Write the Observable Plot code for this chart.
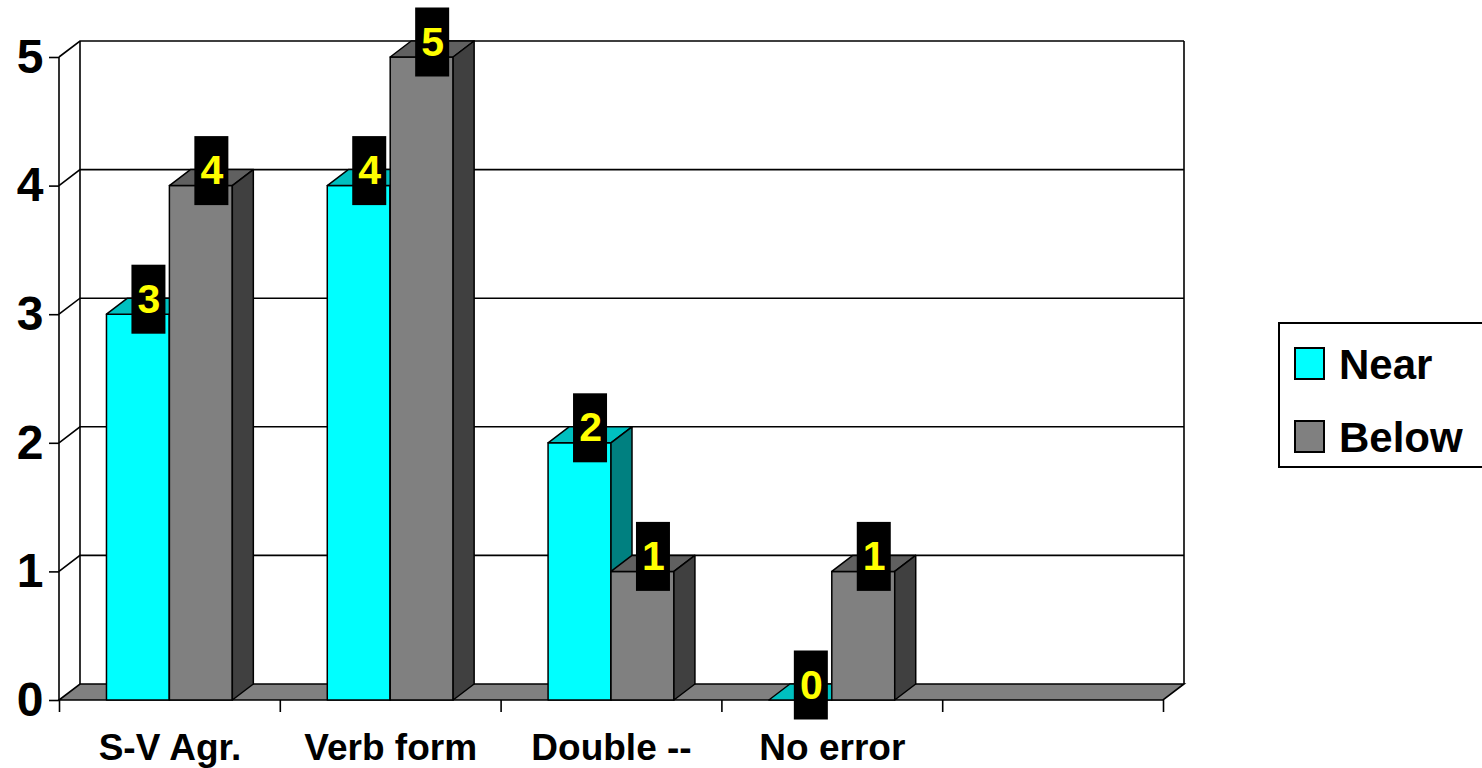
<!DOCTYPE html>
<html>
<head>
<meta charset="utf-8">
<script src="https://cdn.jsdelivr.net/npm/d3@7"></script>
<script src="https://cdn.jsdelivr.net/npm/@observablehq/plot@0.6"></script>
<style>
  body { margin: 0; background: #fff; overflow: hidden; font-family: "Liberation Sans", Arial, sans-serif; }
  #wrap { position: relative; width: 1482px; height: 768px; overflow: hidden; }
  .legend { position: absolute; left: 1278px; top: 322px; width: 240px; height: 146px;
            border: 2px solid #000; box-sizing: border-box; background: #fff; }
  .legend .sw { position: absolute; left: 14px; width: 31px; height: 33px; border: 2px solid #000; box-sizing: border-box; }
  .legend .lab { position: absolute; left: 59px; font-size: 42px; line-height: 42px; font-weight: bold; white-space: nowrap; color: #000; }
</style>
</head>
<body>
<div id="wrap"></div>
<script>
// Error counts per category, two groups of writers
const categories = ["S-V Agr.", "Verb form", "Double --", "No error"];
const slots = 5;                      // one trailing category slot stays empty
const seriesNames = ["Near", "Below"];
const nearValues = [3, 4, 2, 0];
const belowValues = [4, 5, 1, 1];
const yTicks = [0, 1, 2, 3, 4, 5];

// front / top / side shades for each series
const faceColors = {
  Near:  ["#00FFFF", "#00C0C0", "#008080"],
  Below: ["#808080", "#606060", "#404040"]
};

const DX = 21, DY = -16;   // depth of the 3D box, in pixels
const BAR = 0.285;         // column width, in category-slot units

const bars = [];
categories.forEach((c, i) => {
  bars.push({category: c, series: "Near",  value: nearValues[i],  x1: i + 0.5 - BAR, x2: i + 0.5});
  bars.push({category: c, series: "Below", value: belowValues[i], x1: i + 0.5,       x2: i + 0.5 + BAR});
});

// back wall, side-wall gridlines and the floor
function walls(index, {x, y}) {
  const g = d3.create("svg:g").attr("fill", "none").attr("stroke", "#000").attr("stroke-width", 1.6);
  const x0 = x(0), xN = x(slots), top = yTicks[yTicks.length - 1];
  for (const t of yTicks) {
    if (t === 0) continue;
    g.append("path").attr("d", `M${x0},${y(t)}L${x0 + DX},${y(t) + DY}H${xN + DX}`);
  }
  g.append("path").attr("d", `M${x0 + DX},${y(0) + DY}V${y(top) + DY}`);
  g.append("path").attr("d", `M${xN + DX},${y(0) + DY}V${y(top) + DY}`);
  g.append("path").attr("d", `M${x0},${y(0)}V${y(top)}`);
  g.append("path").attr("fill", "#808080")
    .attr("d", `M${x0},${y(0)}H${xN}l${DX},${DY}H${x0 + DX}Z`);
  return g.node();
}

// 3D columns: front face, top face, right side face
function columns(index, {x, y}) {
  const g = d3.create("svg:g").attr("stroke", "#000").attr("stroke-width", 1.5).attr("stroke-linejoin", "round");
  for (const b of bars) {
    const [front, topc, side] = faceColors[b.series];
    const l = x(b.x1), r = x(b.x2), t = y(b.value), base = y(0);
    if (b.value > 0) g.append("path").attr("fill", front).attr("d", `M${l},${base}V${t}H${r}V${base}Z`);
    g.append("path").attr("fill", topc).attr("d", `M${l},${t}l${DX},${DY}H${r + DX}l${-DX},${-DY}Z`);
    if (b.value > 0) g.append("path").attr("fill", side).attr("d", `M${r},${base}V${t}l${DX},${DY}V${base + DY}Z`);
  }
  return g.node();
}

// black tags behind the value labels
function labelBoxes(index, {x, y}) {
  const g = d3.create("svg:g").attr("fill", "#000");
  for (const b of bars) {
    g.append("rect")
      .attr("x", x((b.x1 + b.x2) / 2) + DX / 2 - 17)
      .attr("y", y(b.value) - 15 - 34.5)
      .attr("width", 34).attr("height", 69);
  }
  return g.node();
}

const chart = Plot.plot({
  width: 1482,
  height: 768,
  marginLeft: 59,
  marginRight: 319,
  marginTop: 57,
  marginBottom: 68,
  x: {domain: [0, slots], axis: null},
  y: {domain: [0, 5], axis: null},
  style: {fontFamily: "'Liberation Sans', Arial, sans-serif", color: "#000", background: "#fff", overflow: "visible"},
  marks: [
    walls,
    columns,
    labelBoxes,
    Plot.text(bars, {
      x: d => (d.x1 + d.x2) / 2, y: "value", text: d => String(d.value),
      dx: DX / 2, dy: -15, fill: "#FFFF00", fontSize: 41, fontWeight: "bold"
    }),
    Plot.axisY({ticks: yTicks, tickSize: 10, tickPadding: 6, fontSize: 48, fontWeight: "bold",
                strokeWidth: 1.6, tickFormat: d => String(d), label: null}),
    Plot.axisX({ticks: d3.range(slots + 1), tickSize: 12, tickFormat: () => "", strokeWidth: 1.6, label: null}),
    Plot.axisX({ticks: categories.map((c, i) => i + 0.5), tickSize: 0, tickPadding: 33, fontSize: 37,
                fontWeight: "bold", tickFormat: v => categories[Math.floor(v)], label: null})
  ]
});

const wrap = document.getElementById("wrap");
wrap.appendChild(chart);

// legend box at the right
const legend = document.createElement("div");
legend.className = "legend";
seriesNames.forEach((s, i) => {
  const sw = document.createElement("div");
  sw.className = "sw";
  sw.style.top = (23 + i * 73) + "px";
  sw.style.background = faceColors[s][0];
  const lab = document.createElement("div");
  lab.className = "lab";
  lab.style.top = (20 + i * 73) + "px";
  lab.textContent = s;
  legend.appendChild(sw);
  legend.appendChild(lab);
});
wrap.appendChild(legend);
</script>
</body>
</html>
